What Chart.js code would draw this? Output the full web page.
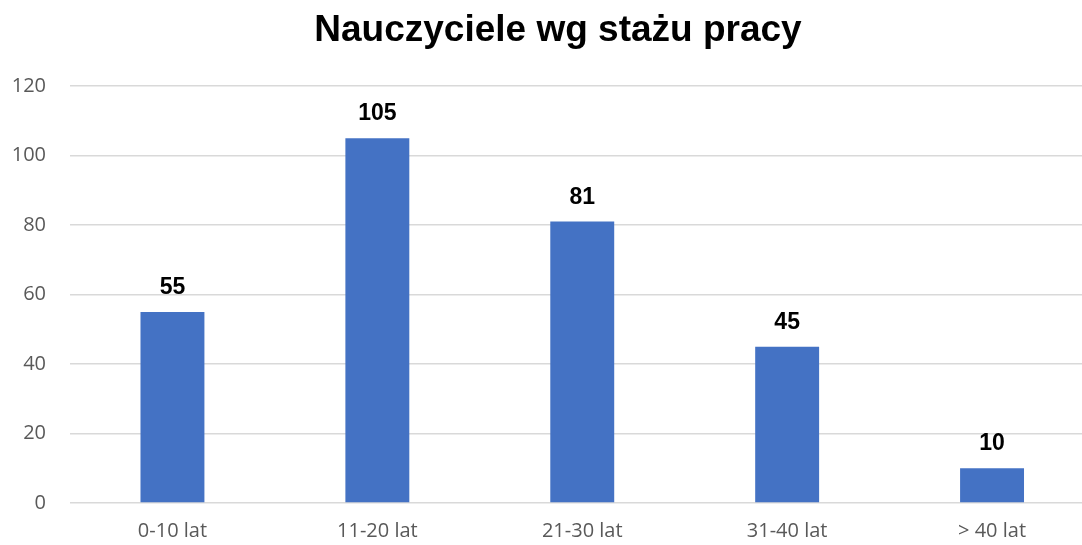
<!DOCTYPE html>
<html>
<head>
<meta charset="utf-8">
<script src="https://cdn.jsdelivr.net/npm/chart.js@4"></script>
<style>
  html, body { margin: 0; padding: 0; background: #fff; overflow: hidden; }
  #okno { width: 1082px; height: 545px; overflow: hidden; }
  #wrap { width: 1117px; height: 545px; }
</style>
</head>
<body>
<div id="okno"><div id="wrap"><canvas id="wykres"></canvas></div></div>
<script>
// dane z wykresu
var tytul = 'Nauczyciele wg stażu pracy';
var kategorie = ['0-10 lat', '11-20 lat', '21-30 lat', '31-40 lat', '> 40 lat'];
var liczbaNauczycieli = [55, 105, 81, 45, 10];
var osY = { min: 0, max: 120, krok: 20 };

// etykiety nad słupkami + tytuł (tytuł wyśrodkowany względem całego obrazka)
var etykietyDanych = {
    id: 'etykietyDanych',
    afterDatasetsDraw: function(chart) {
        var ctx = chart.ctx;
        var meta = chart.getDatasetMeta(0);
        ctx.save();
        ctx.font = 'bold 23px "Liberation Sans", Arial, sans-serif';
        ctx.fillStyle = '#000';
        ctx.textAlign = 'center';
        ctx.textBaseline = 'alphabetic';
        meta.data.forEach(function(bar, i) {
            ctx.fillText(liczbaNauczycieli[i], bar.x, bar.y - 18);
        });
        ctx.font = 'bold 37px "Liberation Sans", Arial, sans-serif';
        ctx.textBaseline = 'middle';
        ctx.fillText(tytul, 558, 31);
        ctx.restore();
    }
};

var ctx = document.getElementById('wykres').getContext('2d');
var wykres = new Chart(ctx, {
    type: 'bar',
    data: {
        labels: kategorie,
        datasets: [{
            data: liczbaNauczycieli,
            backgroundColor: '#4472C4',
            categoryPercentage: 1,
            barPercentage: 0.312
        }]
    },
    options: {
        responsive: true,
        maintainAspectRatio: false,
        animation: false,
        layout: { padding: { left: 4, right: 22.5, top: 86, bottom: 0 } },
        plugins: {
            legend: { display: false },
            tooltip: { enabled: false },
            title: { display: false }
        },
        scales: {
            x: {
                grid: { display: false },
                border: { display: false },
                ticks: {
                    color: '#595959',
                    font: { family: '"Open Sans", sans-serif', size: 20 },
                    padding: 8
                },
                afterFit: function(scale) { scale.height = 42; }
            },
            y: {
                min: osY.min,
                max: osY.max,
                grid: { color: '#d9d9d9', lineWidth: 1.5, drawTicks: false },
                border: { display: false },
                ticks: {
                    stepSize: osY.krok,
                    color: '#595959',
                    font: { family: '"Open Sans", sans-serif', size: 20 },
                    padding: 24
                },
                afterFit: function(scale) { scale.width = 66; }
            }
        }
    },
    plugins: [etykietyDanych]
});
</script>
</body>
</html>
